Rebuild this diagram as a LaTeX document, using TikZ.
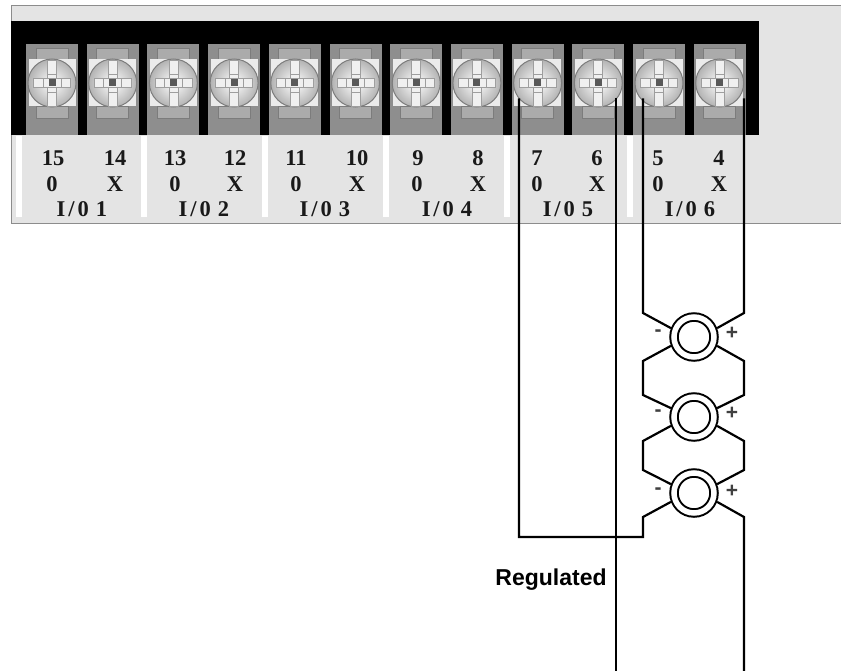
\documentclass[tikz,border=0pt]{standalone}
\usepackage{fontspec}
\setmainfont{Liberation Serif}
\setsansfont{Liberation Sans}
\usetikzlibrary{positioning}

\definecolor{panelgray}{HTML}{E4E4E4}
\definecolor{bodygray}{HTML}{8E8E8E}
\definecolor{tabgray}{HTML}{ABABAB}
\definecolor{edgegray}{HTML}{7C7C7C}

\begin{document}
\begin{tikzpicture}[x=1pt,y=-1pt,semithick]

  \tikzstyle{screw}=[circle,draw=edgegray,line width=1pt,minimum size=48pt,inner sep=0pt,outer sep=0pt,
                     inner color=white,outer color=black!30]
  \tikzstyle{lamp}=[circle,draw,line width=2pt,double=white,double distance=5.5pt,
                    minimum size=40pt,inner sep=0pt,outer sep=4.7pt]
  \tikzstyle{wire}=[line width=2.2pt,line join=miter]
  \tikzstyle{tab}=[fill=tabgray,draw=edgegray,line width=0.8pt]
  \tikzstyle{slot}=[fill=black!6,draw=black!38,line width=0.7pt]
  \tikzstyle{legend}=[font=\fontsize{22.5}{22.5}\selectfont\bfseries,inner sep=0pt,text=black!90]
  \tikzstyle{sign}=[font=\sffamily\fontsize{21}{21}\selectfont\bfseries,inner sep=0pt,text=black!75]

  \useasboundingbox (0,0) rectangle (841,671);

  % panel and black strip
  \fill[panelgray] (11,6) rectangle (841,224);
  \draw[black!45,line width=1pt] (841,6) -- (11,6) -- (11,224) -- (841,224);
  \fill[black] (11,21) rectangle (759,135.5);
  \foreach \x in {16,141,262,383,504,627}
    \fill[white] (\x,136) rectangle (\x+6,217);

  % terminals
  \foreach \n [count=\i from 0] in {15,14,13,12,11,10,9,8,7,6,5,4} {
    \pgfmathsetmacro{\xc}{52+60.7*\i}
    \begin{scope}[shift={(\xc,83)}]
      \fill[bodygray] (-26,-39) rectangle (26,52.5);
      \draw[tab] (-16,-35) rectangle (16,-23);
      \draw[tab] (-16,23) rectangle (16,35);
      \fill[black!8] (-23.5,-23.5) rectangle (23.5,23.5);
      \node[screw] (t\n) at (0,0) {};
      \draw[slot] (-4.5,-23) rectangle (4.5,23);
      \draw[slot] (-18.5,-4.5) rectangle (18.5,4.5);
      \draw[black!38,line width=0.7pt] (-9,-4.5) -- (-9,4.5) (9,-4.5) -- (9,4.5)
                                       (-4.5,-9) -- (4.5,-9) (-4.5,9) -- (4.5,9);
      \fill[black!65] (-3.5,-3.5) rectangle (3.5,3.5);
    \end{scope}
  }

  % terminal numbers
  \foreach \n/\x in {15/53,14/115,13/175,12/235,11/296,10/357,9/418,8/478,7/537,6/597,5/658,4/719}
    \node[legend] (num\n) at (\x,158) {\n};
  \foreach \x [count=\i] in {52,175,296,417,537,658}
    \node[legend] (zero\i) at (\x,184) {0};
  \foreach \x [count=\i] in {115,235,357,478,597,719}
    \node[legend] (cross\i) at (\x,184) {X};
  \foreach \x [count=\i] in {82,204,325,447,568,690}
    \node[legend] (io\i) at (\x,209) {I\hspace{3pt}/\hspace{3pt}0\hspace{7pt}\i};

  % lamps
  \node[lamp] (L1) at (694,337) {};
  \node[lamp] (L2) at (694,417) {};
  \node[lamp] (L3) at (694,493) {};

  \node[sign] (m1) at (658,333) {-};
  \node[sign] (p1) at (732,333) {+};
  \node[sign] (m2) at (658,413) {-};
  \node[sign] (p2) at (732,413) {+};
  \node[sign] (m3) at (658,491) {-};
  \node[sign] (p3) at (732,491) {+};

  % bend points
  \coordinate (la) at (643,313);
  \coordinate (lb) at (643,361);
  \coordinate (lc) at (643,395);
  \coordinate (ld) at (643,441);
  \coordinate (le) at (643,470);
  \coordinate (lf) at (643,517);
  \coordinate (lg) at (643,537);
  \coordinate (lh) at (519,537);
  \coordinate (ra) at (744,313);
  \coordinate (rb) at (744,361);
  \coordinate (rc) at (744,395);
  \coordinate (rd) at (744,441);
  \coordinate (re) at (744,470);
  \coordinate (rf) at (744,517);
  \coordinate (rg) at (744,671);
  \coordinate (sg) at (616,671);

  % wiring
  \draw[wire] (la |- t4.220) -- (la) -- (L1.159);
  \draw[wire] (L1.201) -- (lb) -- (lc) -- (L2.159);
  \draw[wire] (L2.201) -- (ld) -- (le) -- (L3.159);
  \draw[wire] (L3.201) -- (lf) -- (lg) -- (lh) -- (lh |- t7.220);
  \draw[wire] (ra |- t4.220) -- (ra) -- (L1.21);
  \draw[wire] (L1.-21) -- (rb) -- (rc) -- (L2.21);
  \draw[wire] (L2.-21) -- (rd) -- (re) -- (L3.21);
  \draw[wire] (L3.-21) -- (rf) -- (rg);
  \draw[wire] (sg |- t6.-40) -- (sg);

  \node[font=\sffamily\fontsize{23}{23}\selectfont\bfseries,inner sep=0pt] (reg) at (551,580) {Regulated};

\end{tikzpicture}
\end{document}
